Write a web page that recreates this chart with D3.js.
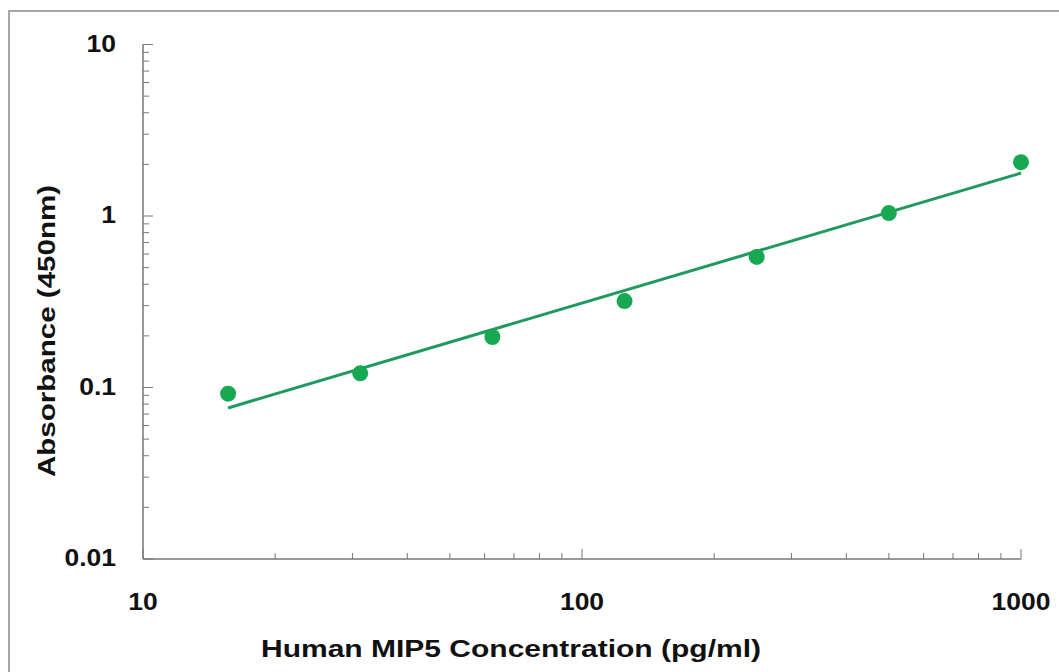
<!DOCTYPE html>
<html>
<head>
<meta charset="utf-8">
<script src="https://cdn.jsdelivr.net/npm/d3@7"></script>
<style>
    body { margin: 0; background: #fff; }
    svg { display: block; }
    text { font-family: "Liberation Sans", Arial, sans-serif; font-weight: bold; fill: #111; }
</style>
</head>
<body>
<svg id="chart" width="1059" height="672"></svg>
<script>
// Standard points (concentration pg/ml, absorbance)
const concentrations = [15.625, 31.25, 62.5, 125, 250, 500, 1000];
const absorbances    = [0.092, 0.121, 0.197, 0.319, 0.577, 1.04, 2.06];

// Fitted trend line at its two ends
const fitX = [15.625, 1000];
const fitY = [0.076, 1.78];

const xTickValues = [10, 100, 1000];
const yTickValues = [0.01, 0.1, 1, 10];

const width = 1059, height = 672;
const plotLeft = 143, plotRight = 1021, plotTop = 44.5, plotBottom = 559;

const svg = d3.select("#chart");

// Outer frame (right and bottom run off the picture)
svg.append("rect")
    .attr("x", 9).attr("y", 11)
    .attr("width", 1070).attr("height", 700)
    .attr("fill", "none")
    .attr("stroke", "#a6a6a6")
    .attr("stroke-width", 2);

const x = d3.scaleLog().domain([10, 1000]).range([plotLeft, plotRight]);
const y = d3.scaleLog().domain([0.01, 10]).range([plotBottom, plotTop]);

// minor ticks 2..9 per decade
function minorTicks(lo, hi) {
    const out = [];
    for (let d = lo; d < hi; d *= 10)
        for (let k = 2; k <= 9; k++) out.push(d * k);
    return out;
}

const axisColor = "#777";
const labelSize = 23;
const stretch = 1.15; // tick digits are a bit wider than Liberation's

// X axis: line + ticks pointing up into the plot
const gx = svg.append("g");
gx.append("line")
    .attr("x1", plotLeft).attr("x2", plotRight)
    .attr("y1", plotBottom).attr("y2", plotBottom)
    .attr("stroke", axisColor).attr("stroke-width", 1.5);
gx.selectAll("line.minor")
    .data(minorTicks(10, 1000))
    .join("line")
    .attr("class", "minor")
    .attr("x1", d => x(d)).attr("x2", d => x(d))
    .attr("y1", plotBottom).attr("y2", plotBottom - 6)
    .attr("stroke", axisColor);
gx.selectAll("line.major")
    .data(xTickValues)
    .join("line")
    .attr("class", "major")
    .attr("x1", d => x(d)).attr("x2", d => x(d))
    .attr("y1", plotBottom).attr("y2", plotBottom - 10)
    .attr("stroke", axisColor);
gx.selectAll("text")
    .data(xTickValues)
    .join("text")
    .attr("transform", d => `translate(${x(d)},610) scale(${stretch},1)`)
    .attr("text-anchor", "middle")
    .attr("font-size", labelSize)
    .text(d => d);

// Y axis: line + ticks pointing right into the plot
const gy = svg.append("g");
gy.append("line")
    .attr("x1", plotLeft).attr("x2", plotLeft)
    .attr("y1", plotTop).attr("y2", plotBottom)
    .attr("stroke", axisColor).attr("stroke-width", 1.5);
gy.selectAll("line.minor")
    .data(minorTicks(0.01, 10))
    .join("line")
    .attr("class", "minor")
    .attr("x1", plotLeft).attr("x2", plotLeft + 6)
    .attr("y1", d => y(d)).attr("y2", d => y(d))
    .attr("stroke", axisColor);
gy.selectAll("line.major")
    .data(yTickValues)
    .join("line")
    .attr("class", "major")
    .attr("x1", plotLeft).attr("x2", plotLeft + 10)
    .attr("y1", d => y(d)).attr("y2", d => y(d))
    .attr("stroke", axisColor);
gy.selectAll("text")
    .data(yTickValues)
    .join("text")
    .attr("transform", d => `translate(116,${y(d) + 7}) scale(${stretch},1)`)
    .attr("text-anchor", "end")
    .attr("font-size", labelSize)
    .text(d => d);

// Axis titles
svg.append("text")
    .attr("x", 511).attr("y", 657)
    .attr("text-anchor", "middle")
    .attr("font-size", 23)
    .attr("textLength", 500)
    .attr("lengthAdjust", "spacingAndGlyphs")
    .text("Human MIP5 Concentration (pg/ml)");

svg.append("text")
    .attr("transform", "translate(55,331) rotate(-90)")
    .attr("text-anchor", "middle")
    .attr("font-size", 23)
    .attr("textLength", 292)
    .attr("lengthAdjust", "spacingAndGlyphs")
    .text("Absorbance (450nm)");

// Trend line
const line = d3.line()
    .x(d => x(d[0]))
    .y(d => y(d[1]));
svg.append("path")
    .datum(d3.zip(fitX, fitY))
    .attr("d", line)
    .attr("fill", "none")
    .attr("stroke", "#1e9a5c")
    .attr("stroke-width", 3);

// Points
svg.selectAll("circle.pt")
    .data(d3.zip(concentrations, absorbances))
    .join("circle")
    .attr("class", "pt")
    .attr("cx", d => x(d[0]))
    .attr("cy", d => y(d[1]))
    .attr("r", 8)
    .attr("fill", "#19a852");
</script>
</body>
</html>
